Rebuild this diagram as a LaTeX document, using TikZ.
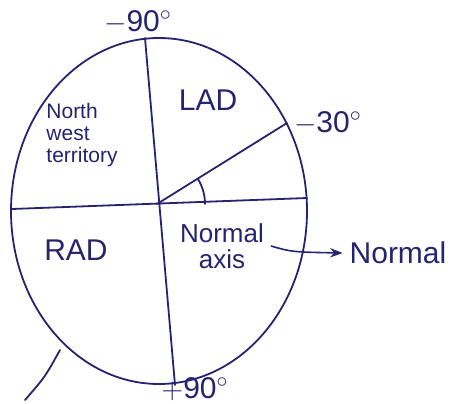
\documentclass[tikz,border=0pt]{standalone}
\usepackage{fontspec}
\setsansfont{Liberation Sans}
\usetikzlibrary{arrows.meta,positioning,calc}
\definecolor{ink}{RGB}{38,36,110}

\begin{document}
\begin{tikzpicture}[x=0.5pt,y=-0.5pt,
  >={Stealth[length=2.2mm]},
  every node/.style={font=\sffamily\fontsize{15}{17}\selectfont,text=ink,align=center},
  small/.style={font=\sffamily\fontsize{10.5}{11}\selectfont,align=left},
  stroke/.style={draw=ink,line width=0.9pt,line cap=round},
  flow/.style={->,draw=ink,line width=0.8pt}]
  \useasboundingbox[fill=white] (0,0) rectangle (472,403);

  % axis circle
  \draw[stroke] (159,211) ellipse [x radius=148,y radius=173];
  \coordinate (top) at (145,38);
  \coordinate (bottom) at (175,385);
  \coordinate (left) at (12,209);
  \coordinate (right) at (307,198);
  \coordinate (origin) at (157,204);
  \coordinate (minusthirty) at (287,123);
  \draw[stroke] (top) -- (bottom);
  \draw[stroke] (left) -- (right);
  \draw[stroke] (origin) -- (minusthirty);
  \draw[stroke] ($(origin)+(48,0)$) arc[start angle=0,end angle=-31.6,radius=48];

  % labels
  \node (mninety) at (138,22) {$-$90$^{\circ}$};
  \node[inner sep=0pt] (pninety) at (195,389) {$+$90$^{\circ}$};
  \node[right=0pt of minusthirty] (mthirty) {$-$30$^{\circ}$};
  \node (lad) at (208,100) {LAD};
  \node (rad) at (76,250) {RAD};
  \node[small] (nwest) at (82,135) {North\\west\\territory};
  \node[font=\sffamily\fontsize{13}{13}\selectfont] (normaxis) at (222,246) {Normal\\axis};
  \node (normal) at (398,253) {Normal};

  \draw[flow] (normaxis.east) .. controls (292,252) .. (normal.west);
  % tick mark bottom left
  \draw[stroke] (60,350) .. controls (45,377) .. (25,400);
\end{tikzpicture}
\end{document}
